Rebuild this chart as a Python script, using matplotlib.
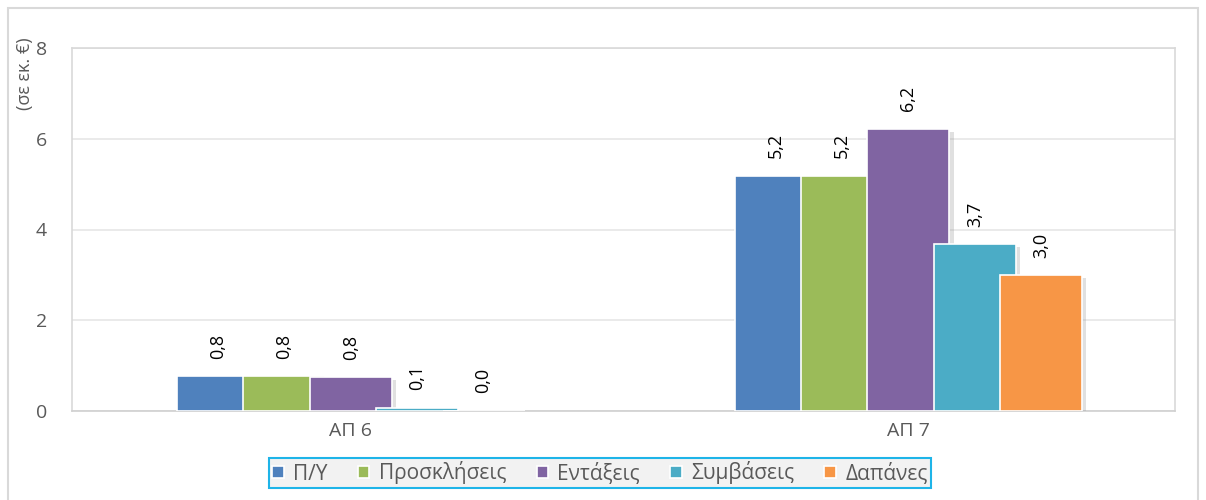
import matplotlib.pyplot as plt
import matplotlib.patheffects as pe
from matplotlib.patches import Rectangle
import numpy as np

plt.rcParams['font.family'] = ['Open Sans', 'DejaVu Sans']

categories = ['ΑΠ 6', 'ΑΠ 7']
series = ['Π/Υ', 'Προσκλήσεις', 'Εντάξεις', 'Συμβάσεις', 'Δαπάνες']
values = [
    [0.77, 5.19],   # Π/Υ
    [0.77, 5.19],   # Προσκλήσεις
    [0.75, 6.22],   # Εντάξεις
    [0.07, 3.68],   # Συμβάσεις
    [0.01, 3.00],   # Δαπάνες
]
labels = [
    ['0,8', '5,2'],
    ['0,8', '5,2'],
    ['0,8', '6,2'],
    ['0,1', '3,7'],
    ['0,0', '3,0'],
]
colors = ['#4F81BD', '#9BBB59', '#8064A2', '#4BACC6', '#F79646']
y_ticks = [0, 2, 4, 6, 8]

text_col = '#595959'
grid_col = '#E6E6E6'

fig = plt.figure(figsize=(12.06, 5.0), dpi=100)
# outer chart border
fig.patches.append(Rectangle((8 / 1206, -0.02), 1190 / 1206, 1.0 - 8 / 500 + 0.02,
                             transform=fig.transFigure, fill=False,
                             edgecolor='#D9D9D9', linewidth=1.5))

ax = fig.add_axes([72 / 1206, 89 / 500, 1103 / 1206, 363 / 500])

x = np.arange(len(categories))
step = 0.119
width = 0.147
shadow = [pe.SimplePatchShadow(offset=(3, -2), shadow_rgbFace='#999999', alpha=0.3), pe.Normal()]

for i, (name, vals, col) in enumerate(zip(series, values, colors)):
    pos = x + (i - 2) * step
    bars = ax.bar(pos, vals, width=width, color=col, edgecolor='white',
                  linewidth=1.2, label=name, zorder=3 + i)
    for b in bars:
        b.set_path_effects(shadow)
    for p, v, lab in zip(pos, vals, labels[i]):
        ax.annotate(lab, (p, v), xytext=(0, 12.5), textcoords='offset points',
                    rotation=90, ha='center', va='bottom', fontsize=13,
                    color='black', zorder=20)

ax.set_xlim(-0.5, 1.478)
ax.set_ylim(0, 8)
ax.set_yticks(y_ticks)
ax.set_yticklabels([str(t) for t in y_ticks])
ax.set_xticks(x)
ax.set_xticklabels(categories)
ax.tick_params(axis='both', length=0, labelsize=14, colors=text_col, pad=8)
ax.tick_params(axis='y', pad=18)
ax.yaxis.grid(True, color=grid_col, linewidth=1.2, zorder=0)
ax.set_axisbelow(True)
for side in ['left', 'top', 'right']:
    ax.spines[side].set_color('#D9D9D9')
    ax.spines[side].set_linewidth(1.2)
ax.spines['bottom'].set_color('#D0D0D0')
ax.spines['bottom'].set_linewidth(1.2)

fig.text(25 / 1206, 1 - 37 / 500, '(σε εκ. €)', rotation=90, ha='center', va='top',
         fontsize=13, color=text_col)

leg = fig.legend(loc='center', bbox_to_anchor=(600 / 1206, 1 - 473 / 500), ncol=5,
                 fontsize=15, frameon=True, fancybox=False, handlelength=0.55,
                 handleheight=0.55, handletextpad=0.45, columnspacing=1.45,
                 borderpad=0.15, labelcolor=text_col)
leg.get_frame().set_edgecolor('#1EB4E8')
leg.get_frame().set_facecolor('#F2F2F2')
leg.get_frame().set_linewidth(1.5)
leg.get_frame().set_alpha(1)
for h in leg.legend_handles:
    h.set_path_effects([])
    h.set_edgecolor('white')

fig.savefig('out.png', dpi=100)
